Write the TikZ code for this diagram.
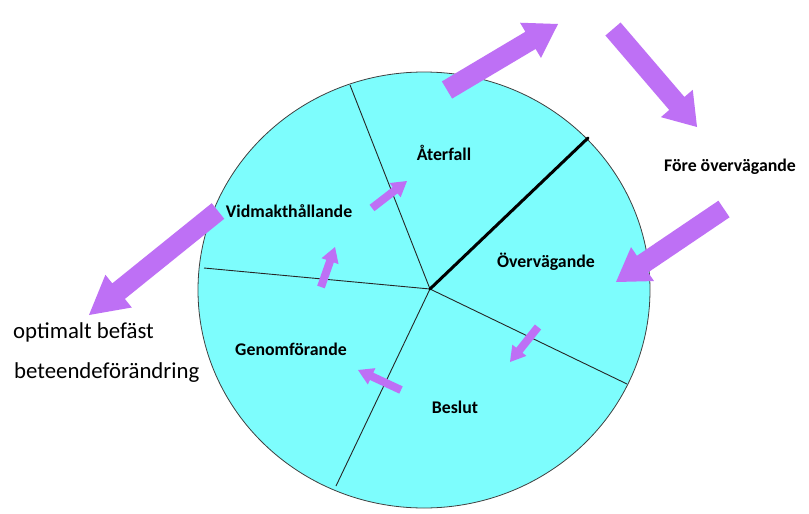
\documentclass[tikz,border=0pt]{standalone}
\usepackage{fontspec}
\setmainfont{Carlito}
\usetikzlibrary{calc}
\definecolor{cyanfill}{RGB}{125,253,253}
\definecolor{arrowpurple}{RGB}{190,112,245}
\tikzset{
  stage/.style={font=\bfseries\fontsize{17.8}{20}\selectfont, inner sep=0pt},
  sidetext/.style={font=\fontsize{22.8}{26}\selectfont, inner sep=0pt, anchor=west},
  divider/.style={draw=black!85, line width=0.9pt},
  thickdivider/.style={draw=black, line width=3pt},
  wheel/.style={fill=cyanfill, draw=black!75, line width=0.8pt},
}
% #1 tail, #2 tip, #3 half shaft width, #4 half head width, #5 head length
\newcommand\blockarr[5]{%
  \coordinate (h#1) at ($(#2)!#5!(#1)$);
  \fill[arrowpurple] ($(#1)!#3!90:(#2)$) -- ($(h#1)!#3!90:(#2)$) -- ($(h#1)!#4!90:(#2)$)
    -- (#2) -- ($(h#1)!#4!-90:(#2)$) -- ($(h#1)!#3!-90:(#2)$) -- ($(#1)!#3!-90:(#2)$) -- cycle;
}
\begin{document}
\begin{tikzpicture}[x=1pt,y=-1pt]
\useasboundingbox (0,0) rectangle (809,514);
\fill[white] (0,0) rectangle (809,514);
% wheel
\draw[wheel] (424,290) ellipse [x radius=226pt, y radius=218pt];
\coordinate (hub) at (430,289);
\coordinate (rtop) at (350,85);
\coordinate (rthick) at (588,138);
\coordinate (rleft) at (204,268);
\coordinate (rbottom) at (336,486);
\coordinate (rright) at (627,384);
\draw[divider] (hub) -- (rtop);
\draw[divider] (hub) -- (rleft);
\draw[divider] (hub) -- (rbottom);
\draw[divider] (hub) -- (rright);
\draw[thickdivider, line cap=round] (hub) -- (rthick);
% labels
\node[stage] (aterfall) at (444,153) {Återfall};
\node[stage] (vidm) at (289,211) {Vidmakthållande};
\node[stage] (overv) at (546,262) {Övervägande};
\node[stage] (genomf) at (291,349) {Genomförande};
\node[stage] (beslut) at (455,407) {Beslut};
\node[stage] (fore) at (730,167) {Före övervägande};
\node[sidetext] (opt) at (13,332) {optimalt befäst};
\node[sidetext] (bet) at (14,373) {beteendeförändring};
% big arrows
\coordinate (Aa) at (447,90);  \coordinate (Ab) at (558,24);
\coordinate (Ba) at (613,29);  \coordinate (Bb) at (697,127);
\coordinate (Ca) at (724,209); \coordinate (Cb) at (616,282);
\coordinate (Da) at (218,211); \coordinate (Db) at (89,315);
\blockarr{Aa}{Ab}{10pt}{20.5pt}{32pt}
\blockarr{Ba}{Bb}{10pt}{21pt}{31pt}
\blockarr{Ca}{Cb}{10pt}{20.5pt}{32pt}
\blockarr{Da}{Db}{10pt}{21pt}{38pt}
% small arrows
\coordinate (sa) at (372,208); \coordinate (sb) at (407,181);
\coordinate (ta) at (321,287); \coordinate (tb) at (335,247);
\coordinate (ua) at (538,327); \coordinate (ub) at (510,362);
\coordinate (va) at (401,390); \coordinate (vb) at (358,370);
\blockarr{sa}{sb}{4pt}{9pt}{15pt}
\blockarr{ta}{tb}{4pt}{9pt}{15pt}
\blockarr{ua}{ub}{4pt}{9pt}{15pt}
\blockarr{va}{vb}{4pt}{9pt}{15pt}
\end{tikzpicture}
\end{document}
